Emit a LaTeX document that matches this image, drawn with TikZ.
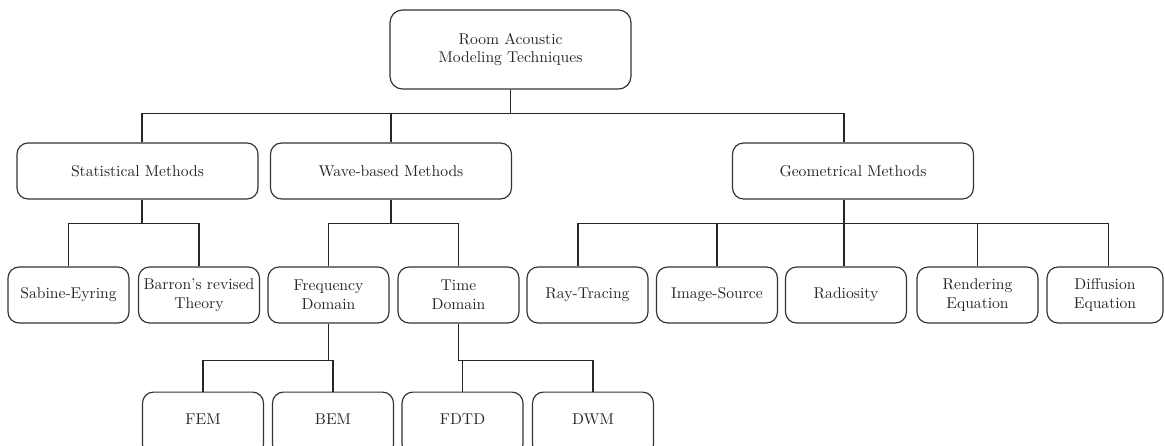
\documentclass[tikz,border=0pt]{standalone}
\usetikzlibrary{calc}
\begin{document}
\begin{tikzpicture}[x=0.64pt,y=-0.64pt,
  box/.style={draw=black!80,line width=0.75pt,rounded corners=7pt,align=center,inner sep=0pt,text=black!85,font=\fontsize{10}{12}\selectfont},
  bigbox/.style={box,minimum width=154.2pt,minimum height=35.8pt},
  rootbox/.style={box,minimum width=154.2pt,minimum height=50.6pt,rounded corners=8pt},
  leafbox/.style={box,minimum width=77.4pt,minimum height=35.8pt},
  lowbox/.style={box,minimum width=77.4pt,text height=20.5pt,text depth=20pt,anchor=north},
  conn/.style={draw=black!85,line width=0.85pt}]
\useasboundingbox (0,0) rectangle (1165,446);
\node[rootbox] (root) at (510.5,49.5) {Room Acoustic\\Modeling Techniques};
\node[bigbox] (stat) at (137.5,171) {Statistical Methods};
\node[bigbox] (wave) at (391,171) {Wave-based Methods};
\node[bigbox] (geo) at (853,171) {Geometrical Methods};
\node[leafbox] (sabine) at (68.5,295) {Sabine-Eyring};
\node[leafbox] (barron) at (199,295) {Barron's revised\\Theory};
\node[leafbox] (freq) at (328.5,295) {Frequency\\Domain};
\node[leafbox] (time) at (458.5,295) {Time\\Domain};
\node[leafbox] (ray) at (587.5,295) {Ray-Tracing};
\node[leafbox] (image) at (717,295) {Image-Source};
\node[leafbox] (radio) at (846,295) {Radiosity};
\node[leafbox] (render) at (977.5,295) {Rendering\\Equation};
\node[leafbox,minimum width=74.2pt] (diff) at (1105,295) {Diffusion\\Equation};
\node[lowbox] (fem) at (203,391.5) {FEM};
\node[lowbox] (bem) at (333,391.5) {BEM};
\node[lowbox] (fdtd) at (462.5,391.5) {FDTD};
\node[lowbox] (dwm) at (593,391.5) {DWM};
% root
\coordinate (rb) at ($(root.south)+(0,24)$);
\draw[conn] (root.south) -- (rb);
\draw[conn] (rb) -| ($(stat.north)+(4.5,0)$);
\draw[conn] (rb) -| (wave.north);
\draw[conn] (rb) -| ($(geo.north)+(-9,0)$);
% statistical
\coordinate (sb) at ($(stat.south)+(4.5,24)$);
\draw[conn] ($(stat.south)+(4.5,0)$) -- (sb);
\draw[conn] (sb) -| (sabine.north);
\draw[conn] (sb) -| (barron.north);
% wave
\coordinate (wb) at ($(wave.south)+(0,24)$);
\draw[conn] (wave.south) -- (wb);
\draw[conn] (wb) -| (freq.north);
\draw[conn] (wb) -| (time.north);
% geometrical
\coordinate (gb) at ($(geo.south)+(-9,24)$);
\draw[conn] ($(geo.south)+(-9,0)$) -- (gb);
\draw[conn] (gb) -| ($(ray.north)+(-9.5,0)$);
\draw[conn] (gb) -| (image.north);
\draw[conn] (gb) -| ($(radio.north)+(-2,0)$);
\draw[conn] (gb) -| (render.north);
\draw[conn] (gb) -| ($(diff.north)+(3.5,0)$);
% frequency
\coordinate (fb) at ($(freq.south)+(0,37)$);
\draw[conn] (freq.south) -- (fb);
\draw[conn] (fb) -| (fem.north);
\draw[conn] (fb) -| (bem.north);
% time
\coordinate (tb) at ($(time.south)+(0,37)$);
\draw[conn] (time.south) -- (tb);
\draw[conn] (tb) -| (fdtd.north);
\draw[conn] (tb) -| (dwm.north);
\end{tikzpicture}
\end{document}
